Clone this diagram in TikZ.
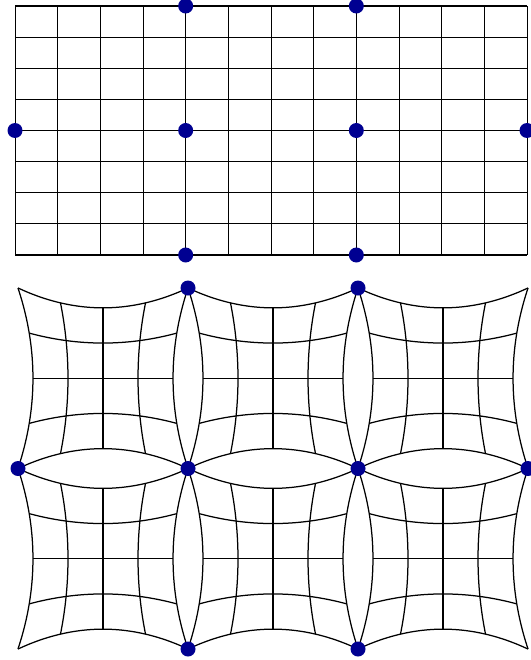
\documentclass[tikz,border=0pt]{standalone}
\definecolor{dotblue}{RGB}{0,0,145}
\begin{document}
\begin{tikzpicture}[x=1pt,y=-1pt,
  hline/.style={line width=1.2pt},
  vline/.style={line width=0.75pt},
  warp/.style={line width=1.25pt},
  dot/.style={fill=dotblue}]
\useasboundingbox (0,0) rectangle (530,660);
% straight grid
\foreach \j in {0,...,8} \draw[hline] (15,{6+31.125*\j}) -- (527,{6+31.125*\j});
\foreach \i in {0,...,12} \draw[vline] ({15+42.6667*\i},6) -- ({15+42.6667*\i},255);
% warped grid
\def\wa{0.176}
\def\wb{0.22}
\foreach \ci in {0,1,2} {
  \foreach \cj in {0,1} {
    \pgfmathsetmacro\cx{18+170*\ci+85}
    \pgfmathsetmacro\cy{288+180.5*\cj+90.25}
    \foreach \u in {-1,-0.5,0,0.5,1} {
      \draw[warp] plot[smooth,domain=-1:1,samples=17,variable=\t]
        ({\cx+85*(\u)*(1-\wa*(1-(\t)*(\t)))},{\cy+90.25*(\t)*(1-\wb*(1-(\u)*(\u)))});
      \draw[warp] plot[smooth,domain=-1:1,samples=17,variable=\t]
        ({\cx+85*(\t)*(1-\wa*(1-(\u)*(\u)))},{\cy+90.25*(\u)*(1-\wb*(1-(\t)*(\t)))});
    }
  }
}
% dots
\foreach \p in {(185.67,6),(356.33,6),(15,130.5),(185.67,130.5),(356.33,130.5),(527,130.5),(185.67,255),(356.33,255),
  (188,288),(358,288),(18,468.5),(188,468.5),(358,468.5),(528,468.5),(188,649),(358,649)}
  \fill[dot] \p circle (7.5);
\end{tikzpicture}
\end{document}
